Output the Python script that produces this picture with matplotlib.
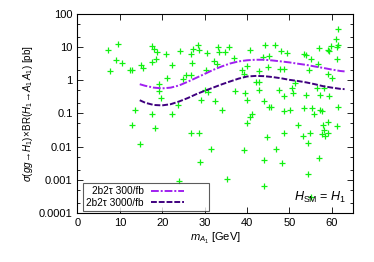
import matplotlib
matplotlib.use("Agg")
import matplotlib.pyplot as plt
import matplotlib.ticker as ticker
import numpy as np

plt.rcParams['font.family'] = ['Liberation Sans', 'DejaVu Sans']
plt.rcParams['mathtext.fontset'] = 'custom'
plt.rcParams['mathtext.rm'] = 'Liberation Sans'
plt.rcParams['mathtext.it'] = 'Liberation Sans:italic'

# scan points: m_A1 [GeV], sigma x BR [pb]
scan_m = [7.1, 9.6, 9.1, 10.4, 7.6, 12.4, 12.8, 14.9, 15.5, 17.5, 18.0, 18.8, 17.5, 18.5,
          20.9, 21.2, 19.3, 19.3, 19.6, 13.5, 17.5, 12.9, 18.2, 14.7, 23.9,
          24.1, 26.7, 27.2, 28.4, 28.7, 30.6, 22.3, 27.0, 25.7, 26.7, 24.9, 30.4, 32.2, 32.8,
          33.1, 33.5, 34.7, 35.7, 36.9, 40.8, 40.0, 38.8, 39.4, 30.0, 30.8, 29.2, 32.4, 23.7,
          34.1, 37.1, 39.6, 40.0, 42.2, 42.8, 41.1, 44.2,
          45.1, 43.7, 46.5, 47.9, 49.5, 45.0, 47.8, 48.6, 42.9, 53.5, 53.9, 55.1, 56.9, 59.0,
          59.4, 59.8, 61.1, 61.4, 61.0, 61.4, 61.1, 56.7, 59.2, 60.0, 54.5, 42.9, 47.5, 50.5,
          50.8, 48.8, 51.2, 53.9, 56.4, 57.1, 59.3, 58.2, 44.1, 45.1, 45.7, 48.8, 50.2, 53.5,
          55.3, 55.7, 57.1, 57.6, 61.4,
          52.0, 58.0, 59.2, 61.1, 58.2, 59.2, 57.7, 58.5, 48.8, 53.1, 54.9, 44.7, 54.3, 46.9,
          44.0, 48.3, 56.9, 54.3, 44.1, 55.1,
          22.2, 40.8, 40.0, 26.7, 28.7, 31.4, 39.4, 29.0, 35.2]
scan_xs = [8.4, 12.2, 4.0, 3.2, 1.87, 2.1, 2.0, 2.97, 2.4, 10.6, 9.0, 7.1, 3.56, 4.5,
           6.3, 1.2, 0.76, 0.47, 0.30, 0.125, 0.099, 0.044, 0.0366, 0.0124, 0.00095,
           7.6, 6.4, 9.0, 11.9, 8.4, 6.6, 2.83, 3.4, 1.48, 1.48, 1.12, 2.0, 3.8, 3.0,
           10.1, 7.1, 7.1, 10.1, 4.7, 8.4, 2.64, 2.1, 1.59, 0.50, 0.44, 0.26, 0.23, 0.185,
           0.13, 0.47, 0.41, 0.26, 0.89, 0.89, 0.093, 11.9,
           5.3, 5.0, 11.3, 7.6, 6.8, 2.5, 2.25, 2.25, 1.87, 6.4, 5.7, 4.5, 9.4, 8.4,
           7.5, 10.8, 10.1, 11.9, 18.0, 36.0, 4.5, 3.0, 1.59, 1.17, 2.1, 0.52, 0.50, 0.60,
           0.41, 0.33, 0.83, 0.37, 0.60, 0.35, 0.33, 0.59, 0.23, 0.157, 0.157, 0.117, 0.125, 0.146,
           0.146, 0.099, 0.13, 0.117, 0.157,
           0.044, 0.044, 0.056, 0.041, 0.031, 0.026, 0.024, 0.021, 0.025, 0.021, 0.026, 0.0196, 0.0133, 0.0087,
           0.0039, 0.0032, 0.0047, 0.00145, 0.00064, 0.0003,
           0.095, 0.078, 0.05, 0.025, 0.025, 0.0087, 0.0078, 0.0035, 0.00104]

# sensitivity curves
curve_m = [14.7, 16, 18, 20, 22, 24, 26, 28, 30, 32, 34, 36, 38, 40, 42, 44,
           46, 48, 50, 52, 54, 56, 58, 60, 62, 63]
reach_300 = [0.76, 0.68, 0.60, 0.57, 0.60, 0.70, 0.90, 1.18, 1.55, 2.05, 2.6, 3.2, 3.7, 4.0, 4.15, 4.15,
             3.95, 3.7, 3.45, 3.15, 2.9, 2.6, 2.35, 2.1, 1.9, 1.85]
reach_3000 = [0.25, 0.21, 0.18, 0.175, 0.19, 0.23, 0.29, 0.38, 0.48, 0.60, 0.75, 0.92, 1.12, 1.30, 1.35, 1.33,
              1.25, 1.15, 1.03, 0.95, 0.86, 0.76, 0.66, 0.60, 0.55, 0.54]

fig = plt.figure(figsize=(3.74, 2.62), dpi=100)
ax = fig.add_axes([0.207, 0.187, 0.737, 0.760])

ax.plot(scan_m, scan_xs, ls='none', marker='+', color='#11f011', ms=4.8, mew=0.9, zorder=2)
ax.plot(curve_m, reach_300, color='#a020f0', lw=1.4, ls=(0, (4, 1, 1, 1)), label='2b2τ 300/fb', zorder=3)
ax.plot(curve_m, reach_3000, color='#3f007f', lw=1.4, ls=(0, (3, 1)), label='2b2τ 3000/fb', zorder=3)

ax.set_yscale('log')
ax.set_xlim(0, 65)
ax.set_ylim(1e-4, 100)
ax.set_xticks([0, 10, 20, 30, 40, 50, 60])
ax.yaxis.set_major_locator(ticker.LogLocator(base=10, numticks=10))
ax.yaxis.set_minor_locator(ticker.LogLocator(base=10, subs=(2.0, 5.0), numticks=10))
ax.yaxis.set_minor_formatter(ticker.NullFormatter())
ax.yaxis.set_major_formatter(ticker.FuncFormatter(lambda v, p: ('%g' % v)))
ax.tick_params(which='both', direction='in', top=True, right=True, labelsize=8, width=0.6)
ax.tick_params(which='major', length=4)
ax.tick_params(which='minor', length=2)
for s in ax.spines.values():
    s.set_linewidth(0.8)

ax.set_xlabel(r'$m_{A_1}$ [GeV]', fontsize=8, labelpad=2)
ax.set_ylabel(r'$\sigma(gg\!\rightarrow\!H_1)\!\times\!{\rm BR}(H_1\!\rightarrow\!A_1\,A_1)$ [pb]', fontsize=7.1, labelpad=3)

ax.text(0.975, 0.04, r'$H_{\rm SM}$ = $H_1$', transform=ax.transAxes, ha='right', va='bottom', fontsize=9)

leg = ax.legend(loc='lower left', bbox_to_anchor=(0.02, 0.012, 0.457, 0.12), mode='expand',
                markerfirst=False, fontsize=7.3, frameon=True, fancybox=False,
                handlelength=3.3, borderpad=0.3, labelspacing=0.15, handletextpad=0.7,
                borderaxespad=0)
leg.get_frame().set_edgecolor('#333333')
leg.get_frame().set_linewidth(0.8)

fig.savefig('out.png', dpi=100)
